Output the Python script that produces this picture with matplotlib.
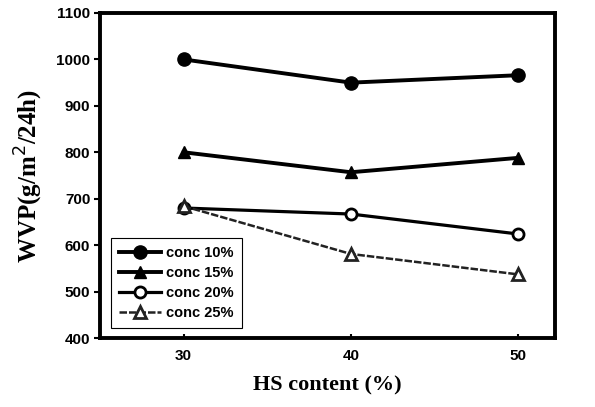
import matplotlib.pyplot as plt

hs_content = [30, 40, 50]
wvp_10 = [1000, 950, 966]
wvp_15 = [800, 757, 788]
wvp_20 = [680, 667, 624]
wvp_25 = [684, 581, 537]
labels = ['conc 10%', 'conc 15%', 'conc 20%', 'conc 25%']

fig = plt.figure(figsize=(5.95, 4.07), dpi=100)
ax = fig.add_axes([100 / 595, 1 - 338 / 407, 455 / 595, 325 / 407])

ax.plot(hs_content, wvp_10, color='black', lw=2.8, marker='o', ms=9.5,
        label=labels[0])
ax.plot(hs_content, wvp_15, color='black', lw=2.8, marker='^', ms=8.5,
        label=labels[1])
ax.plot(hs_content, wvp_20, color='black', lw=2.3, marker='o', ms=8,
        mfc='white', mew=2, label=labels[2])
ax.plot(hs_content, wvp_25, color='#222222', lw=1.8, ls=(0, (3, 0.8)),
        marker='^', ms=8, mfc='white', mew=2, label=labels[3])

ax.set_xlim(25, 52.2)
ax.set_ylim(400, 1100)
ax.set_xticks([30, 40, 50])
ax.set_yticks(range(400, 1101, 100))

for s in ax.spines.values():
    s.set_linewidth(2.8)

ax.tick_params(axis='y', direction='out', length=4, width=1.5, pad=3)
ax.tick_params(axis='x', direction='in', length=3, width=1.5, pad=8)
for t in ax.get_xticklabels() + ax.get_yticklabels():
    t.set_fontfamily('Liberation Sans')
    t.set_fontweight('bold')
    t.set_fontsize(11)

ax.set_xlabel('HS content (%)', family='Liberation Serif', weight='bold',
              fontsize=16, labelpad=9)
ax.set_ylabel('WVP(g/m$^2$/24h)', family='Liberation Serif', weight='bold',
              fontsize=18, labelpad=8)

leg = ax.legend(loc='lower left', bbox_to_anchor=(0.024, 0.03), fancybox=False,
                edgecolor='black', framealpha=1, handlelength=2.9,
                borderpad=0.55, labelspacing=0.42, handletextpad=0.35,
                borderaxespad=0,
                prop={'family': 'Liberation Sans', 'weight': 'bold', 'size': 10.5})
leg.get_frame().set_linewidth(0.8)

fig.savefig('out.png', dpi=100)
